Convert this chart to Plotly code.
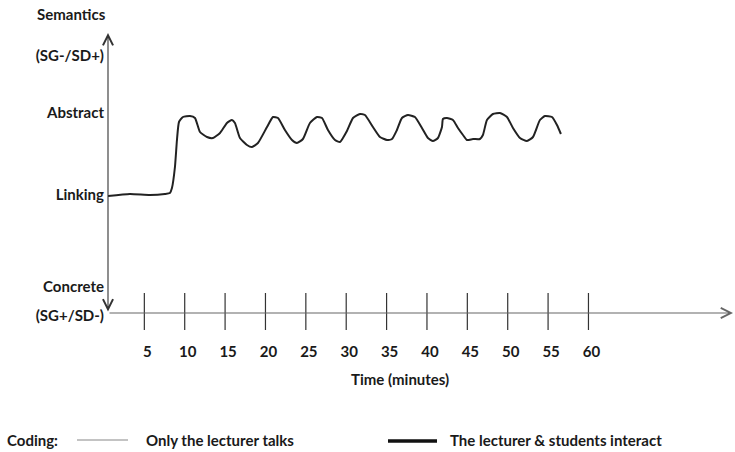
import plotly.graph_objects as go

# ---- data ----
time_min = [0.50, 3.22, 5.70, 7.55, 8.17, 8.42, 8.79, 9.04, 9.29, 9.78, 10.65, 11.27, 11.89,
            12.76, 13.50, 14.37, 15.23, 15.85, 16.22, 16.84, 17.71, 18.33, 19.07, 20.19,
            20.93, 21.55, 22.41, 23.28, 23.90, 24.64, 25.51, 26.38, 27.00, 27.74, 28.61,
            29.23, 30.09, 30.84, 31.70, 32.32, 33.31, 34.18, 35.05, 35.67, 36.28, 36.90,
            37.65, 38.51, 39.38, 40.12, 40.74, 41.36, 41.86, 41.98, 42.48, 43.22, 43.84,
            44.46, 44.95, 45.70, 46.56, 46.93, 47.43, 48.17, 49.04, 49.91, 50.65, 51.52,
            52.38, 53.13, 53.99, 54.61, 55.48, 56.10, 56.59]
semantic_level = [11.7, 11.9, 11.8, 11.9, 12.0, 12.5, 14.6, 17.3, 19.1, 19.6, 19.7, 19.5, 18.1,
                  17.6, 17.5, 18.0, 19.0, 19.3, 19.0, 17.5, 16.8, 16.6, 17.0, 18.6,
                  19.6, 19.5, 18.3, 17.3, 17.0, 17.4, 19.0, 19.6, 19.5, 18.3, 17.3,
                  17.1, 18.2, 19.5, 19.9, 19.8, 18.6, 17.6, 17.3, 17.4, 18.3, 19.5,
                  19.8, 19.6, 18.5, 17.5, 17.2, 17.5, 18.6, 19.4, 19.5, 19.3, 18.5,
                  17.8, 17.3, 17.4, 17.4, 17.8, 19.3, 19.9, 20.0, 19.6, 18.5, 17.5,
                  17.2, 17.6, 19.3, 19.7, 19.6, 18.8, 17.9]

x_tick_vals = [5, 10, 15, 20, 25, 30, 35, 40, 45, 50, 55, 60]
x_tick_text = [str(v) for v in x_tick_vals]
y_tick_vals = [25.7, 20.0, 11.8, 2.6, -0.3]
y_tick_text = ["(SG-/SD+)", "Abstract", "Linking", "Concrete", "(SG+/SD-)"]

x_min, x_max = 0.5, 77.9
y_min, y_max = -2.7, 28.0

FONT = "Lato"
FS = 15
TXT = "#1a1a1a"

# pixel helpers for paper placement
L, R, T, B = 108, 733, 33, 340
def px(xp):
    return (xp - L) / (R - L)
def py(yp):
    return (B - yp) / (B - T)

def tfont(size=FS):
    return dict(family=FONT, size=size, color=TXT, weight="bold")

fig = go.Figure()
fig.add_trace(go.Scatter(x=time_min, y=semantic_level, mode="lines",
                         line=dict(color="#222222", width=2, shape="spline", smoothing=0.5),
                         showlegend=False, hoverinfo="skip"))

# tick marks crossing the time axis
for t in x_tick_vals:
    fig.add_shape(type="line", xref="x", yref="y", x0=t, x1=t, y0=-1.7, y1=2.0,
                  line=dict(color="#333333", width=1.2))

def label(x, y, text, xanchor="center"):
    return dict(x=px(x), y=py(y), xref="paper", yref="paper", text=text, showarrow=False,
                xanchor=xanchor, yanchor="middle", font=tfont())

annotations = [
    # y axis (double-headed)
    dict(x=x_min, y=y_max, ax=x_min, ay=0, xref="x", yref="y", axref="x", ayref="y",
         text="", showarrow=True, arrowside="end+start", arrowhead=5, startarrowhead=5,
         arrowsize=1.8, startarrowsize=1.8, arrowwidth=1.1, arrowcolor="#333333"),
    # x axis
    dict(x=x_max, y=0, ax=x_min, ay=0, xref="x", yref="y", axref="x", ayref="y",
         text="", showarrow=True, arrowhead=5, arrowsize=1.8, arrowwidth=1.1,
         arrowcolor="#666666"),
    label(71, 14, "Semantics"),
    label(400, 379, "Time (minutes)"),
    label(5, 440, "Coding:", "left"),
    label(144, 440, "Only the lecturer talks", "left"),
    label(448, 440, "The lecturer &amp; students interact", "left"),
]

# legend sample lines
fig.add_shape(type="line", xref="paper", yref="paper", x0=px(77), x1=px(128), y0=py(440), y1=py(440),
              line=dict(color="#888888", width=1.2))
fig.add_shape(type="line", xref="paper", yref="paper", x0=px(388), x1=px(437), y0=py(441), y1=py(441),
              line=dict(color="#111111", width=3.5))

fig.update_layout(
    width=735, height=452, autosize=False,
    margin=dict(l=L, r=735 - R, t=T, b=452 - B),
    paper_bgcolor="white", plot_bgcolor="white",
    font=dict(family=FONT, size=FS, color=TXT),
    annotations=annotations,
    xaxis=dict(range=[x_min, x_max], tickvals=x_tick_vals, ticktext=x_tick_text,
               showgrid=False, zeroline=False, showline=False, ticks="",
               ticklabelstandoff=1, ticklabelshift=3, tickfont=tfont()),
    yaxis=dict(range=[y_min, y_max], tickvals=y_tick_vals, ticktext=y_tick_text,
               showgrid=False, zeroline=False, showline=False, ticks="",
               ticklabelstandoff=3, tickfont=tfont()),
    showlegend=False,
)

fig.write_html("out.html", config={"displayModeBar": False},
               post_script="document.body.style.margin='0';")
